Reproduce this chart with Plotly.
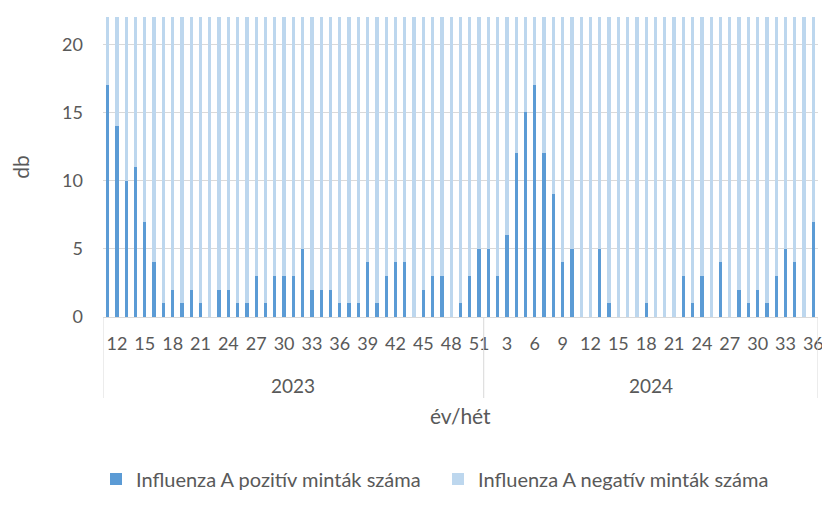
import plotly.graph_objects as go

# ---- data ----
years = ["2023", "2024"]
weeks_2023 = list(range(11, 52))   # 11..51
weeks_2024 = list(range(1, 37))    # 1..36

pos_2023 = [17, 14, 10, 11, 7, 4, 1, 2, 1, 2, 1, 0, 2, 2, 1, 1, 3, 1, 3, 3,
            3, 5, 2, 2, 2, 1, 1, 1, 4, 1, 3, 4, 4, 0, 2, 3, 3, 0, 1, 3, 5]
pos_2024 = [5, 3, 6, 12, 15, 17, 12, 9, 4, 5, 0, 0, 5, 1, 0, 0, 0, 1, 0, 0,
            0, 3, 1, 3, 0, 4, 0, 2, 1, 2, 1, 3, 5, 4, 0, 7]

# negative counts run above the visible axis range (clipped at 22)
neg_2023 = [38, 35, 33, 31, 30, 29, 28, 27, 29, 30, 28, 27, 26, 28, 29, 27, 30, 28, 29, 31,
            30, 28, 29, 27, 30, 31, 29, 28, 30, 32, 31, 33, 34, 35, 33, 36, 38, 34, 35, 37, 40]
neg_2024 = [42, 44, 45, 43, 41, 40, 38, 37, 35, 34, 33, 32, 31, 30, 29, 30, 28, 29, 27, 28,
            29, 27, 28, 30, 29, 28, 27, 29, 28, 30, 29, 31, 30, 32, 31, 33]

week_labels = [str(w) for w in weeks_2023] + [str(w) for w in weeks_2024]
positive = pos_2023 + pos_2024
negative = neg_2023 + neg_2024
label_step = 3

# ---- build ----
n23 = len(weeks_2023)
x_idx = list(range(len(week_labels)))
tickvals = [i for i in x_idx if (i - 1) % label_step == 0]
ticktext = [week_labels[i] for i in tickvals]

DARK = "#5B9BD5"
LIGHT = "#BDD7EE"
GRID = "#D9D9D9"
TXT = "#595959"
FONT = "Lato, 'Open Sans', sans-serif"

fig = go.Figure()
fig.add_trace(go.Bar(x=x_idx, y=positive, name="Influenza A pozitív minták száma",
                     marker=dict(color=DARK, line=dict(width=0))))
fig.add_trace(go.Bar(x=x_idx, y=negative, name="Influenza A negatív minták száma",
                     marker=dict(color=LIGHT, line=dict(width=0))))

# page body has an 8px margin: figure is sized/offset to compensate
OFF = 8
W, H = 830 - OFF, 512 - OFF
left, right, top, bottom = 103 - OFF, 12, 17 - OFF, 195
plot_w = W - left - right
plot_h = H - top - bottom

def py(px_below_axis):
    return -px_below_axis / plot_h

shapes = []
for xv in [-0.5, n23 - 0.5, len(week_labels) - 0.5]:
    shapes.append(dict(type="line", xref="x", yref="paper", x0=xv, x1=xv,
                       y0=0, y1=py(81), line=dict(color=GRID, width=1)))

annotations = [
    dict(x=(n23 - 1) / 2, y=py(68), xref="x", yref="paper", text=years[0],
         showarrow=False, font=dict(size=19, color=TXT, family=FONT), yanchor="middle"),
    dict(x=(n23 + len(week_labels) - 1) / 2, y=py(68), xref="x", yref="paper", text=years[1],
         showarrow=False, font=dict(size=19, color=TXT, family=FONT), yanchor="middle"),
    dict(x=0.5, y=py(98), xref="paper", yref="paper", text="év/hét",
         showarrow=False, font=dict(size=21, color=TXT, family=FONT), yanchor="middle"),
]

fig.update_layout(
    width=W, height=H,
    margin=dict(l=left, r=right, t=top, b=bottom, autoexpand=False),
    paper_bgcolor="white", plot_bgcolor="white",
    barmode="stack", bargap=0.64,
    font=dict(family=FONT, color=TXT, size=18),
    showlegend=True,
    legend=dict(orientation="h", x=(96 - OFF - left) / plot_w, xanchor="left", y=py(162),
                yanchor="middle", font=dict(size=20, color=TXT, family=FONT),
                itemwidth=30, entrywidth=297, entrywidthmode="pixels",
                traceorder="normal"),
    xaxis=dict(range=[-0.5, len(week_labels) - 0.5], tickmode="array",
               tickvals=tickvals, ticktext=ticktext, tickangle=0, automargin=False,
               showgrid=False, zeroline=False, showline=True, linecolor=GRID, linewidth=1,
               ticks="", tickfont=dict(size=18, color=TXT, family=FONT),
               ticklabelstandoff=10),
    yaxis=dict(range=[0, 22], dtick=5, tick0=0, showgrid=True, gridcolor=GRID, gridwidth=1,
               zeroline=False, showline=False, ticks="", automargin=False,
               tickfont=dict(size=18, color=TXT, family=FONT), ticklabelstandoff=19,
               title=dict(text="db", font=dict(size=21, color=TXT, family=FONT), standoff=30)),
    shapes=shapes,
    annotations=annotations,
    hovermode=False,
)

fig.write_html("out.html")
